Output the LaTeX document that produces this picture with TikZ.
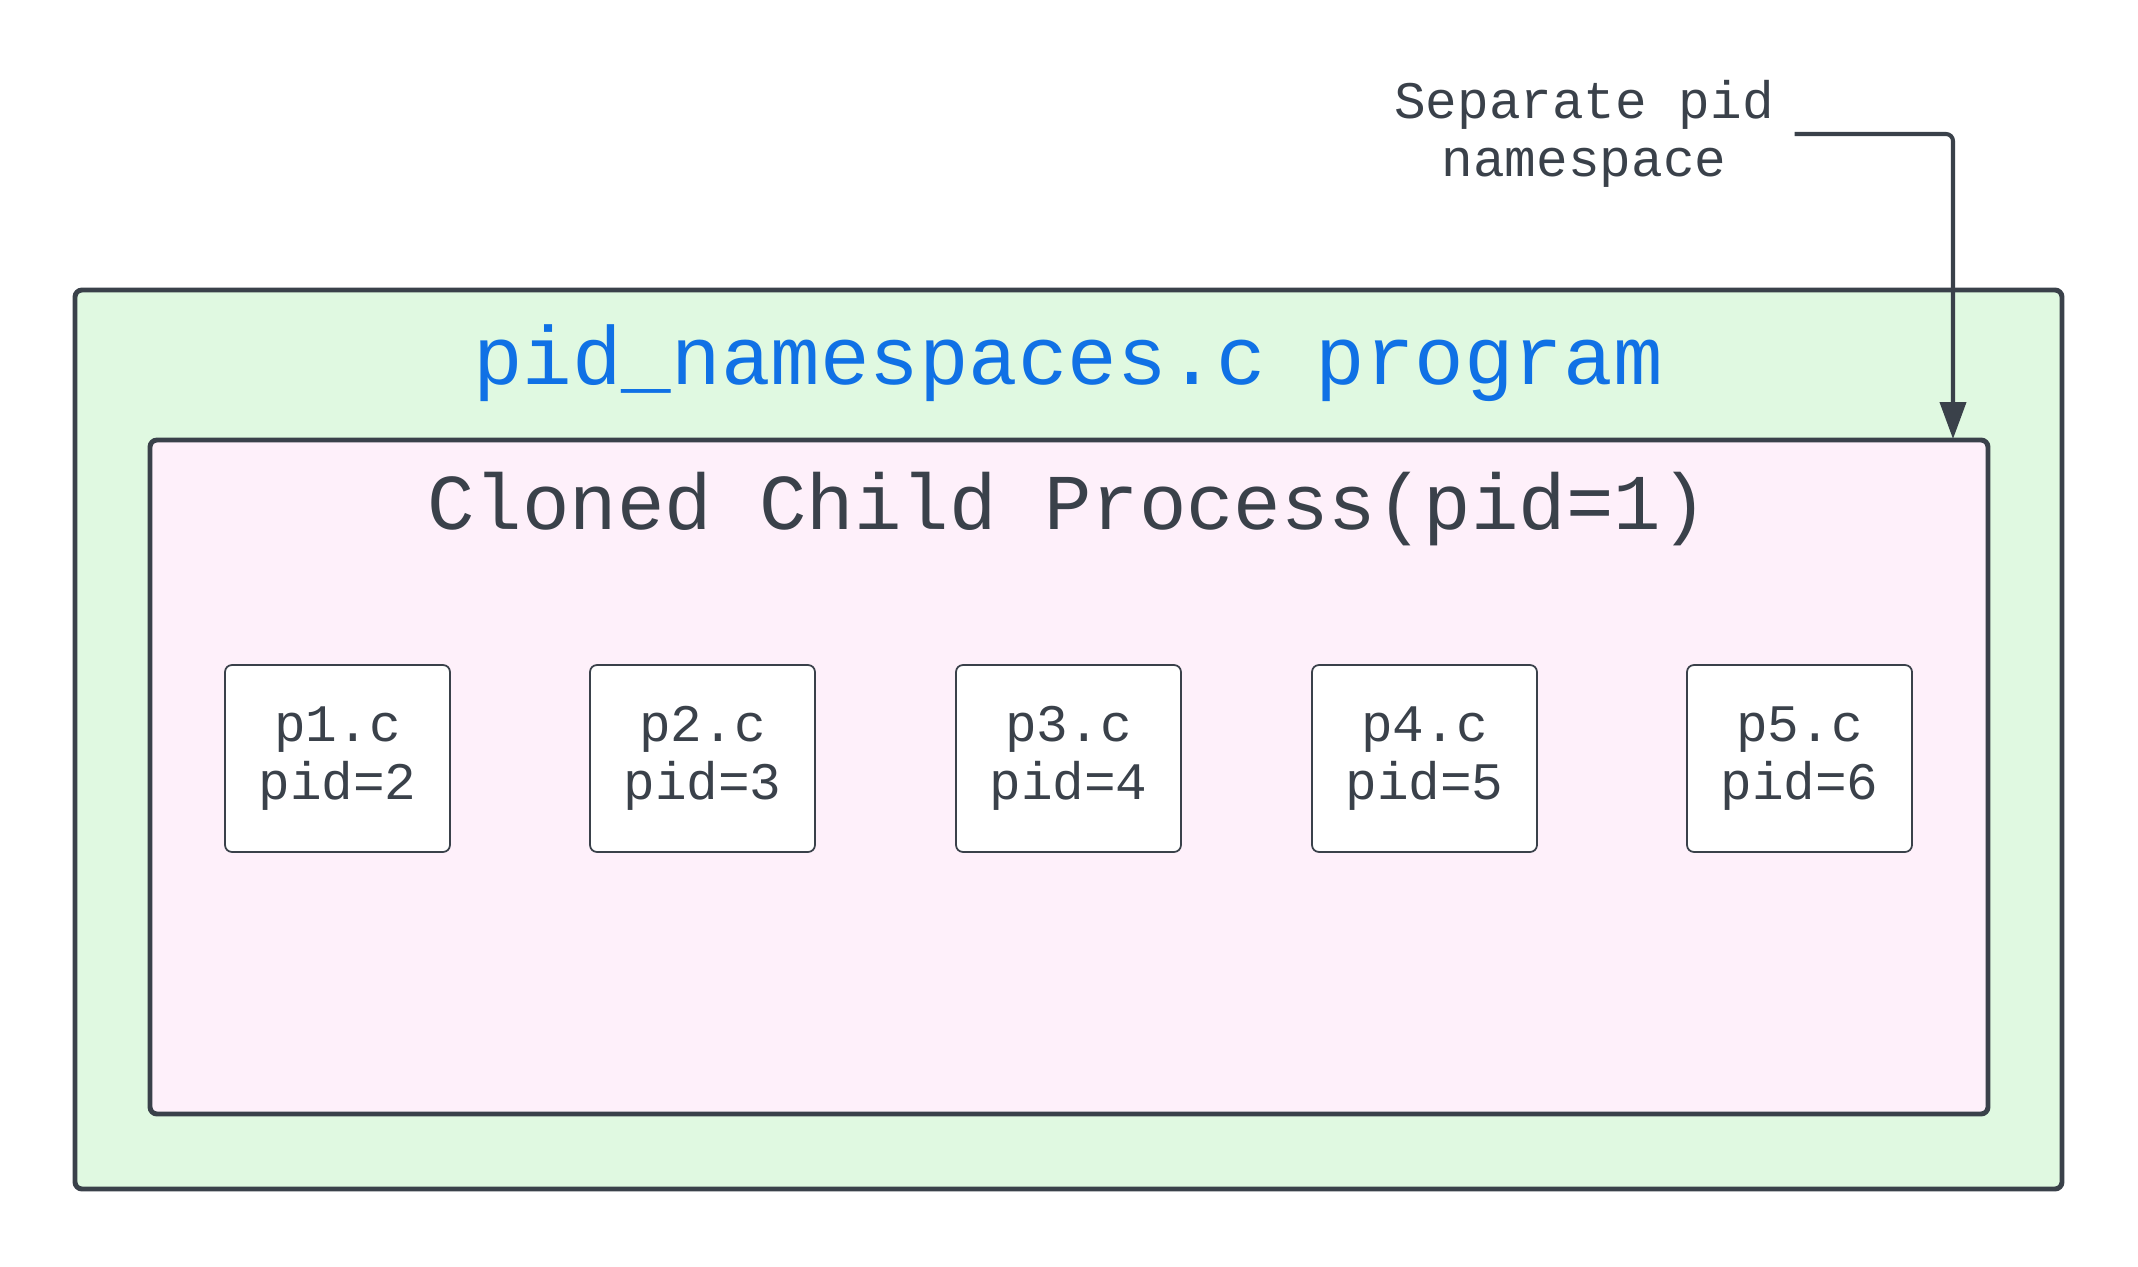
\documentclass[tikz,border=0pt]{standalone}
\usepackage{fontspec}
\usetikzlibrary{arrows.meta,positioning}
\newfontfamily\diagfont{Liberation Mono}
\definecolor{inkgray}{RGB}{58,65,74}
\definecolor{progreen}{RGB}{224,249,225}
\definecolor{childpink}{RGB}{254,240,250}
\definecolor{titleblue}{RGB}{16,113,229}
\tikzset{
  outerbox/.style={draw=inkgray, line width=1.4pt, fill=progreen,
                   rounded corners=2pt},
  childbox/.style={draw=inkgray, line width=1.4pt, fill=childpink,
                   rounded corners=2pt},
  procbox/.style={draw=inkgray, line width=0.5pt, fill=white,
                  minimum width=2.25cm, minimum height=1.87cm,
                  rounded corners=2pt, inner sep=0pt, align=center,
                  text=inkgray, font=\diagfont\fontsize{15}{16.4}\selectfont},
  bigtitle/.style={text=titleblue, font=\diagfont\fontsize{23.5}{28}\selectfont},
  childtitle/.style={text=inkgray, font=\diagfont\fontsize{22.5}{27}\selectfont},
  note/.style={text=inkgray, align=center, inner sep=2mm,
               font=\diagfont\fontsize{15}{16.4}\selectfont},
  flow/.style={-{Triangle[length=3.7mm,width=2.6mm]}, draw=inkgray,
               line width=1.15pt, rounded corners=2pt},
}
\begin{document}
\begin{tikzpicture}[x=1cm,y=1cm]
  \path[use as bounding box] (0,0) rectangle (21.38,12.66);

  \draw[outerbox] (0.75,0.77) rectangle (20.62,9.76);
  \node[bigtitle] (prog) at (10.68,9.03) {pid\_namespaces.c program};

  \draw[childbox] (1.50,1.52) rectangle (19.88,8.26);
  \node[childtitle] (child) at (10.68,7.57) {Cloned Child Process(pid=1)};

  \node[procbox] (p1) at (3.375,5.075) {p1.c\\pid=2};
  \node[procbox] (p2) at (7.025,5.075) {p2.c\\pid=3};
  \node[procbox] (p3) at (10.685,5.075) {p3.c\\pid=4};
  \node[procbox] (p4) at (14.245,5.075) {p4.c\\pid=5};
  \node[procbox] (p5) at (17.995,5.075) {p5.c\\pid=6};

  \node[note] (sep) at (15.84,11.32) {Separate pid\\namespace};
  \coordinate (tip) at (19.53,8.27);
  \draw[flow] (sep.east) -| (tip);
\end{tikzpicture}
\end{document}
